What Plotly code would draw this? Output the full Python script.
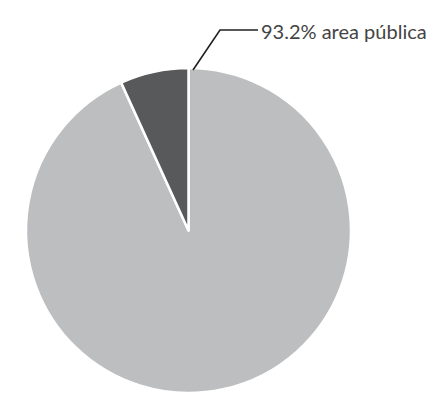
import plotly.graph_objects as go

labels = ["area pública", "área privada"]
values = [93.2, 6.8]
colors = ["#bdbec0", "#58595b"]
label_text = "93.2% area pública"

W, H = 446, 405
OFF = 8  # page body margin
# pie geometry in pixels (page coordinates)
cx, cy, r = 188.5, 230.5, 162.5

def px(x):
    return (x - OFF) / W

def py(y):
    return 1 - (y - OFF) / H

fig = go.Figure(go.Pie(
    labels=labels, values=values, sort=False, direction="clockwise",
    rotation=0,
    marker=dict(colors=colors, line=dict(color="white", width=2.5)),
    textinfo="none", hoverinfo="label+percent",
    domain=dict(x=[px(cx - r), px(cx + r)], y=[py(cy + r), py(cy - r)]),
    showlegend=False,
))

# leader line from the top of the pie to the label
x0, y0 = cx + 4.5, cy - r + 2
x1, y1 = x0 + 27, 30
x2 = x1 + 38
fig.add_shape(type="path", xref="paper", yref="paper",
              path=f"M {px(x0)},{py(y0)} L {px(x1)},{py(y1)} L {px(x2)},{py(y1)}",
              line=dict(color="#231f20", width=1.6))
fig.add_annotation(x=px(x2 + 1), y=py(y1 + 1), xref="paper", yref="paper",
                   text=label_text, showarrow=False, xanchor="left", yanchor="middle",
                   font=dict(family="Lato", size=20, color="#444444"))

fig.update_layout(width=W, height=H, margin=dict(l=0, r=0, t=0, b=0),
                  paper_bgcolor="white", plot_bgcolor="white")
fig.write_html("out.html")
